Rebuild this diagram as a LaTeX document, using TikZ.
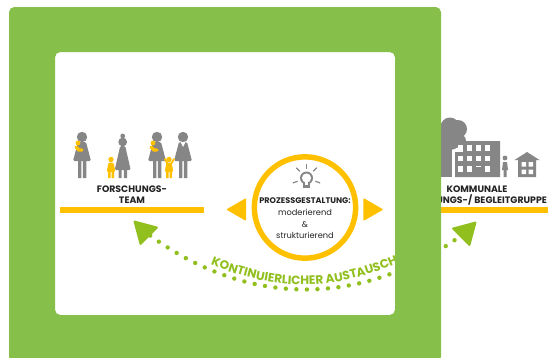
\documentclass[tikz,border=0pt]{standalone}
\usepackage{fontspec}
\setmainfont{Poppins}
\usetikzlibrary{positioning,shapes.geometric,decorations.text}
\definecolor{frameGreen}{RGB}{135,191,75}
\definecolor{arrowGreen}{RGB}{145,192,30}
\definecolor{barYellow}{RGB}{255,192,0}
\definecolor{iconGrey}{RGB}{134,134,134}
\definecolor{textDark}{RGB}{35,35,35}
\tikzset{
  headline/.style={font=\fontsize{7pt}{8.2pt}\selectfont\bfseries,text=textDark,align=center,inner sep=0pt},
  circlehead/.style={font=\fontsize{6.1pt}{8pt}\selectfont\bfseries,text=textDark,inner sep=0pt},
  plainline/.style={font=\fontsize{6.2pt}{8pt}\selectfont,text=textDark,inner sep=0pt},
  bigarrow/.style={regular polygon,regular polygon sides=3,fill=arrowGreen,draw=arrowGreen,line width=1.5pt,line join=round,inner sep=0pt,minimum size=20pt},
  sidearrow/.style={isosceles triangle,isosceles triangle apex angle=60,fill=barYellow,draw=barYellow,line width=1pt,line join=round,inner sep=0pt,minimum height=13.5pt},
  adult/.pic={
    \fill[iconGrey] (0,-41) circle (5.2);
    \fill[iconGrey,rounded corners=1] (-4,-36) -- (4,-36) -- (9,-17) -- (-9,-17) -- cycle;
    \fill[iconGrey] (-4,-18) rectangle (-0.6,0) (0.8,-18) rectangle (4.4,0);
  },
  elder/.pic={
    \fill[iconGrey] (0,-36) circle (4.4) (0,-42) circle (2.4);
    \fill[iconGrey,rounded corners=1] (-2.5,-32) -- (2.5,-32) -- (8,-8) -- (-8,-8) -- cycle;
    \fill[iconGrey] (-4,-9) rectangle (-1,0) (1.2,-9) rectangle (4.4,0);
  },
  babyfig/.pic={
    \fill[barYellow] (0,-6) circle (2.4);
    \draw[barYellow,line width=2.4pt,line cap=round] (-2,-2) -- (1,1) -- (4,1);
  },
  kidfig/.pic={
    \fill[barYellow] (0,-18.5) circle (2.7);
    \fill[barYellow,rounded corners=1] (-2.5,-15.5) -- (2.5,-15.5) -- (4.4,-6) -- (-4.4,-6) -- cycle;
    \fill[barYellow] (-3,-6.5) rectangle (-0.5,0) (0.5,-6.5) rectangle (3,0);
  }
}
\begin{document}
\begin{tikzpicture}[x=0.75pt,y=-0.75pt]
  \useasboundingbox[fill=white] (0,0) rectangle (548,357);
  % right hand group
  \fill[iconGrey] (450,127) circle (9.5) (458,129) circle (9) (450,138) circle (12) (459,141) circle (7);
  \fill[iconGrey] (441,140) rectangle (452,177);
  \fill[iconGrey] (463,141) rectangle (500,177) (455,152) rectangle (463,177);
  \foreach \col in {0,1,2,3}
    \foreach \row in {0,1,2}
      \fill[white] (457.5+\col*9.2,145+\row*10.5) rectangle ++(5,5.5);
  \fill[iconGrey] (476,167) rectangle (484,177);
  \fill[iconGrey] (505,158) circle (2.4);
  \fill[iconGrey] (503,162) -- (507,162) -- (508,170) -- (506.5,170) -- (506.5,177) -- (503.5,177) -- (503.5,170) -- (502,170) -- cycle;
  \fill[iconGrey] (514.5,160) -- (527,152) -- (539.5,160) -- (536,160) -- (536,177) -- (518,177) -- (518,160) -- cycle;
  \fill[white] (521.5,162) rectangle ++(4.5,4.5) (528.5,162) rectangle ++(4.5,4.5) (521.5,169.5) rectangle ++(4.5,4.5) (528.5,169.5) rectangle ++(4.5,4.5);
  \node[headline] (komLabel) at (477,189) {KOMMUNALE};
  \node[headline,anchor=west] (begLabel) at (436,200) {UNGS-/ BEGLEITGRUPPE};
  \fill[barYellow] (441,207) rectangle (548,213);
  % exchange arc
  \node[bigarrow,shape border rotate=45] (leftTip) at (144,231) {};
  \node[bigarrow,shape border rotate=-45] (rightTip) at (466,232) {};
  \draw[arrowGreen,line width=3.3pt,line cap=round,dash pattern=on 0pt off 7.9pt] (leftTip) to[bend right=36] (rightTip);
  \coordinate (arcStart) at (206,263);
  \coordinate (arcEnd) at (403,261);
  \path[decorate,decoration={text along path,text align=center,text={|\fontsize{9.1pt}{10pt}\selectfont\bfseries\color{arrowGreen}|KONTINUIERLICHER AUSTAUSCH}}] (arcStart) to[bend right=23] (arcEnd);
  % frame
  \fill[frameGreen,even odd rule,rounded corners=4] (9,7) rectangle (441,362) (55,52) rectangle (395,315);
  % research team
  \pic at (82,178) {adult};
  \pic at (78,149) {babyfig};
  \pic at (122.7,178) {elder};
  \pic at (111,178) {kidfig};
  \pic at (157,178) {adult};
  \pic at (153,149) {babyfig};
  \pic at (183,178) {adult};
  \fill[white] (180.5,142) -- (185.5,142) -- (183,147) -- cycle;
  \pic at (169,178) {kidfig};
  \draw[barYellow,line width=1.4pt,line cap=round] (165,159) -- (167.5,164) (174,159) -- (171,164);
  \node[headline] (teamLabel) at (132,194.5) {FORSCHUNGS-\\TEAM};
  \fill[barYellow] (60,207) rectangle (204,213);
  % process circle
  \node[circle,draw=barYellow,line width=4.1pt,minimum size=76pt,inner sep=0pt] (procRing) at (305,207.5) {};
  \node[circlehead] (procHead) at (305,200.7) {PROZESSGESTALTUNG:};
  \node[plainline,below=4pt of procHead] (procOne) {moderierend};
  \node[plainline,below=3.6pt of procOne] (procTwo) {\&};
  \node[plainline,below=3.6pt of procTwo] (procThree) {strukturierend};
  \node[sidearrow,shape border rotate=180] (procLeft) at (239.5,209.5) {};
  \node[sidearrow] (procRight) at (370,209.5) {};
  % bulb
  \fill[iconGrey] (306.5,178) circle (6.5);
  \fill[white] (306.5,178) circle (4.6);
  \fill[iconGrey] (303,183) rectangle (310,188);
  \fill[white] (304.6,181.5) rectangle (308.4,184.5);
  \foreach \ang in {-90,-45,-135,20,160}
    \draw[iconGrey,line width=0.9pt] (306.5,178) ++(\ang:9.5) -- ++(\ang:5);
\end{tikzpicture}
\end{document}
